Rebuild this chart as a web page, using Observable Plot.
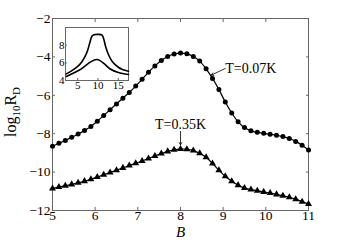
<!DOCTYPE html>
<html>
<head>
<meta charset="utf-8">
<script src="https://cdn.jsdelivr.net/npm/d3@7"></script>
<script src="https://cdn.jsdelivr.net/npm/@observablehq/plot@0.6"></script>
<style>
  body { margin: 0; background: white; }
  #wrap { position: relative; width: 340px; height: 243px; background: white; }
  #inset { position: absolute; left: 45px; top: 20px; }
  #wrap svg, #wrap svg text, #wrap svg tspan { font-family: "Liberation Serif", "Times New Roman", serif !important; }
</style>
</head>
<body>
<div id="wrap"><div id="main"></div><div id="inset"></div></div>
<script>
// ---- data ----
const B = [5.00,5.15,5.30,5.45,5.60,5.75,5.90,6.05,6.20,6.35,6.50,6.65,6.80,6.95,7.10,7.25,7.40,7.55,7.70,7.85,8.00,
           8.15,8.30,8.45,8.60,8.75,8.90,9.05,9.20,9.35,9.50,9.65,9.80,9.95,10.10,10.25,10.40,10.55,10.70,10.85,11.00];
const logR_007 = [-8.65,-8.50,-8.35,-8.19,-8.02,-7.83,-7.62,-7.35,-7.05,-6.75,-6.45,-6.15,-5.85,-5.52,-5.17,-4.80,-4.47,-4.19,-3.98,-3.85,-3.80,
                  -3.84,-3.98,-4.22,-4.62,-5.12,-5.70,-6.35,-6.92,-7.38,-7.68,-7.85,-7.93,-7.98,-8.03,-8.08,-8.15,-8.25,-8.40,-8.60,-8.85];
const logR_035 = [-10.85,-10.78,-10.71,-10.64,-10.56,-10.47,-10.37,-10.26,-10.14,-10.02,-9.90,-9.78,-9.66,-9.54,-9.42,-9.29,-9.16,-9.03,-8.92,-8.84,-8.80,
                  -8.81,-8.88,-9.02,-9.23,-9.55,-9.90,-10.22,-10.48,-10.68,-10.83,-10.91,-10.97,-11.03,-11.09,-11.16,-11.23,-11.31,-11.41,-11.54,-11.66];
const xTicks = [5,6,7,8,9,10,11];
const yTicks = [-12,-10,-8,-6,-4,-2];
const xLabel = "B";
const labels = ["T=0.07K", "T=0.35K"];
const labelX = [9.05, 8.0];
const labelY = [-4.6, -7.5];
const arrowFromX = [9.05, 8.0];
const arrowFromY = [-4.6, -7.88];
const arrowToX = [8.72, 8.0];
const arrowToY = [-4.95, -8.58];

// inset data
const insetX1 = [2.2,3,4,5,6,7,7.5,8,8.5,9,10,11,11.4,11.9,12.5,13.5,15,16,17.5];
const insetY1 = [4.75,4.95,5.25,5.6,6.1,6.9,7.5,8.3,9.0,9.18,9.22,9.15,8.7,7.8,7.0,6.15,5.5,5.25,5.05];
const insetX2 = [2.2,4,6,8,9,9.7,10.5,11.5,13,15,17.5];
const insetY2 = [4.45,4.85,5.35,6.05,6.3,6.38,6.25,5.9,5.3,4.9,4.68];
const insetXTicks = [5,10,15];
const insetYTicks = [4,6,8];

// ---- build ----
const upper = B.map((b,i)=>({B:b, v:logR_007[i]}));
const lower = B.map((b,i)=>({B:b, v:logR_035[i]}));
const ann = labels.map((t,i)=>({t, x:labelX[i], y:labelY[i], x1:arrowFromX[i], y1:arrowFromY[i], x2:arrowToX[i], y2:arrowToY[i]}));
const gray = "#666";
const serif = "Liberation Serif, Times New Roman, serif";
const fmt = d => d3.format("d")(d);

const main = Plot.plot({
  width: 340, height: 243,
  marginLeft: 52, marginRight: 32, marginTop: 18, marginBottom: 33,
  x: {domain: [5, 11]},
  y: {domain: [-12, -2]},
  style: {fontFamily: serif, fontSize: "14px", background: "white", color: "black"},
  marks: [
    Plot.frame({stroke: gray}),
    Plot.axisX(xTicks, {anchor: "bottom", tickSize: -3, tickPadding: 3, stroke: gray, fill: "black", label: null, tickFormat: fmt, fontSize: 13.5}),
    Plot.axisX(xTicks, {anchor: "top", tickSize: -3, stroke: gray, label: null, tickFormat: () => ""}),
    Plot.axisY(yTicks, {anchor: "left", tickSize: -3, tickPadding: 5, stroke: gray, fill: "black", label: null, tickFormat: fmt, fontSize: 13.5}),
    Plot.axisY(yTicks, {anchor: "right", tickSize: -3, stroke: gray, label: null, tickFormat: () => ""}),
    Plot.line(upper, {x: "B", y: "v", stroke: "black", strokeWidth: 1.2, curve: "catmull-rom"}),
    Plot.dot(upper, {x: "B", y: "v", r: 2.5, fill: "black", stroke: "none", symbol: "circle"}),
    Plot.line(lower, {x: "B", y: "v", stroke: "black", strokeWidth: 1.2, curve: "catmull-rom"}),
    Plot.dot(lower, {x: "B", y: "v", r: 2.6, fill: "black", stroke: "none", symbol: "triangle"}),
    Plot.arrow(ann, {x1: "x1", y1: "y1", x2: "x2", y2: "y2", stroke: "black", strokeWidth: 0.8, headLength: 5}),
    Plot.text(ann.slice(0,1), {x: "x", y: "y", text: "t", textAnchor: "start", fontSize: 14, fill: "black"}),
    Plot.text(ann.slice(1), {x: "x", y: "y", text: "t", textAnchor: "middle", fontSize: 14, fill: "black"}),
    Plot.text([xLabel], {frameAnchor: "bottom", dy: 26, text: d => d, fontStyle: "italic", fontSize: 15, fill: "black"})
  ]
});
document.getElementById("main").appendChild(main);

// y-axis label with subscripts
const yl = d3.select(main).append("text")
  .attr("transform", "translate(16,112) rotate(-90)")
  .attr("text-anchor", "middle")
  .attr("font-size", 16)
  .attr("fill", "black");
yl.append("tspan").text("log");
yl.append("tspan").attr("dy", 4).attr("font-size", 11).text("10");
yl.append("tspan").attr("dy", -4).text("R");
yl.append("tspan").attr("dy", 4).attr("font-size", 11).text("D");

const inset = Plot.plot({
  width: 90, height: 78,
  marginLeft: 20, marginRight: 7, marginTop: 7, marginBottom: 18,
  x: {domain: [2, 17.5]},
  y: {domain: [4, 10]},
  style: {fontFamily: serif, fontSize: "11px", background: "transparent", color: "black", overflow: "visible"},
  marks: [
    Plot.frame({stroke: gray, fill: "white"}),
    Plot.axisX(insetXTicks, {anchor: "bottom", tickSize: -2, tickPadding: 3, stroke: gray, fill: "black", label: null, tickFormat: fmt, fontSize: 11}),
    Plot.axisY(insetYTicks, {anchor: "left", tickSize: -2, tickPadding: 3, stroke: gray, fill: "black", label: null, tickFormat: fmt, fontSize: 11}),
    Plot.line(insetX1.map((x,i)=>({x, y: insetY1[i]})), {x: "x", y: "y", stroke: "black", strokeWidth: 1.6, curve: "catmull-rom"}),
    Plot.line(insetX2.map((x,i)=>({x, y: insetY2[i]})), {x: "x", y: "y", stroke: "black", strokeWidth: 1.6, curve: "catmull-rom"})
  ]
});
document.getElementById("inset").appendChild(inset);
</script>
</body>
</html>
